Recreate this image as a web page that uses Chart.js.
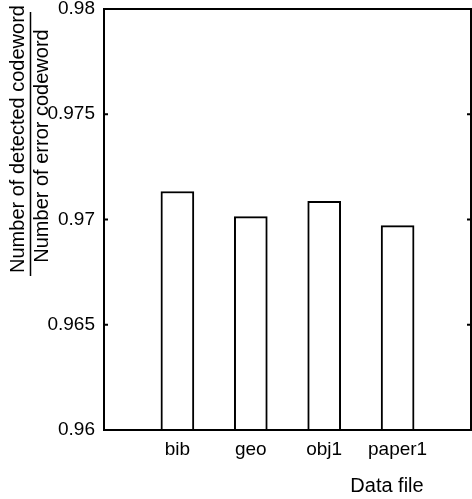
<!DOCTYPE html>
<html>
<head>
<meta charset="utf-8">
<script src="https://cdn.jsdelivr.net/npm/chart.js@4/dist/chart.umd.min.js"></script>
<style>
  html, body { margin: 0; padding: 0; background: #fff; }
  #wrap { width: 472px; height: 499px; }
</style>
</head>
<body>
<div id="wrap"><canvas id="c" width="472" height="499"></canvas></div>
<script>
const categories = ['bib', 'geo', 'obj1', 'paper1'];
const ratioValues = [0.97133, 0.97014, 0.97086, 0.96971];
const yTicks = [0.96, 0.965, 0.97, 0.975, 0.98];
const yTitleTop = 'Number of detected codeword';
const yTitleBottom = 'Number of error codeword';
const xTitle = 'Data file';

const FONT = '"Liberation Sans", Arial, Helvetica, sans-serif';

const framePlugin = {
  id: 'frame',
  afterDraw(chart) {
    const { ctx, chartArea: a, scales } = chart;
    const y = scales.y;
    ctx.save();
    ctx.strokeStyle = '#000';
    ctx.lineWidth = 2;
    ctx.strokeRect(a.left, a.top, a.right - a.left, a.bottom - a.top);
    yTicks.forEach(v => {
      const py = y.getPixelForValue(v);
      ctx.beginPath();
      ctx.moveTo(a.left, py); ctx.lineTo(a.left + 4, py);
      ctx.moveTo(a.right, py); ctx.lineTo(a.right - 4, py);
      ctx.stroke();
    });
    const cy = 142;
    ctx.fillStyle = '#000';
    ctx.font = '20px ' + FONT;
    ctx.textAlign = 'center';
    ctx.textBaseline = 'alphabetic';
    ctx.save();
    ctx.translate(24, cy - 3);
    ctx.rotate(-Math.PI / 2);
    ctx.fillText(yTitleTop, 0, 0);
    ctx.restore();
    ctx.save();
    ctx.translate(48, cy + 4);
    ctx.rotate(-Math.PI / 2);
    ctx.fillText(yTitleBottom, 0, 0);
    ctx.restore();
    ctx.lineWidth = 1.5;
    ctx.beginPath();
    ctx.moveTo(30.5, 12); ctx.lineTo(30.5, 276);
    ctx.stroke();
    ctx.textBaseline = 'middle';
    ctx.fillText(xTitle, 387, 486);
    ctx.restore();
  }
};

new Chart(document.getElementById('c'), {
  type: 'bar',
  data: {
    datasets: [{
      data: categories.map((c, i) => ({ x: i + 1, y: ratioValues[i] })),
      backgroundColor: '#ffffff',
      borderColor: '#000000',
      borderWidth: 2,
      barThickness: 33,
      borderSkipped: 'start'
    }]
  },
  options: {
    responsive: false,
    animation: false,
    events: [],
    layout: { padding: { top: 9, right: 1, left: 0, bottom: 0 } },
    plugins: { legend: { display: false }, tooltip: { enabled: false } },
    scales: {
      x: {
        type: 'linear',
        min: 0, max: 5,
        offset: false,
        afterFit: s => { s.height = 69; s.paddingLeft = 0; s.paddingRight = 0; },
        afterBuildTicks: s => { s.ticks = categories.map((c, i) => ({ value: i + 1 })); },
        grid: { display: false, drawTicks: false, offset: false },
        border: { display: true, color: '#000', width: 2 },
        ticks: {
          padding: 8,
          color: '#000',
          font: { family: FONT, size: 19 },
          maxRotation: 0,
          autoSkip: false,
          callback: v => categories[v - 1] || ''
        }
      },
      y: {
        min: 0.96, max: 0.98,
        afterFit: s => { s.width = 104; s.paddingTop = 0; s.paddingBottom = 0; },
        afterBuildTicks: s => { s.ticks = yTicks.map(v => ({ value: v })); },
        grid: { display: false, drawTicks: false },
        border: { display: true, color: '#000', width: 2 },
        ticks: {
          padding: 9,
          color: '#000',
          font: { family: FONT, size: 19 },
          callback: v => String(+Number(v).toFixed(3))
        }
      }
    }
  },
  plugins: [framePlugin]
});
</script>
</body>
</html>
